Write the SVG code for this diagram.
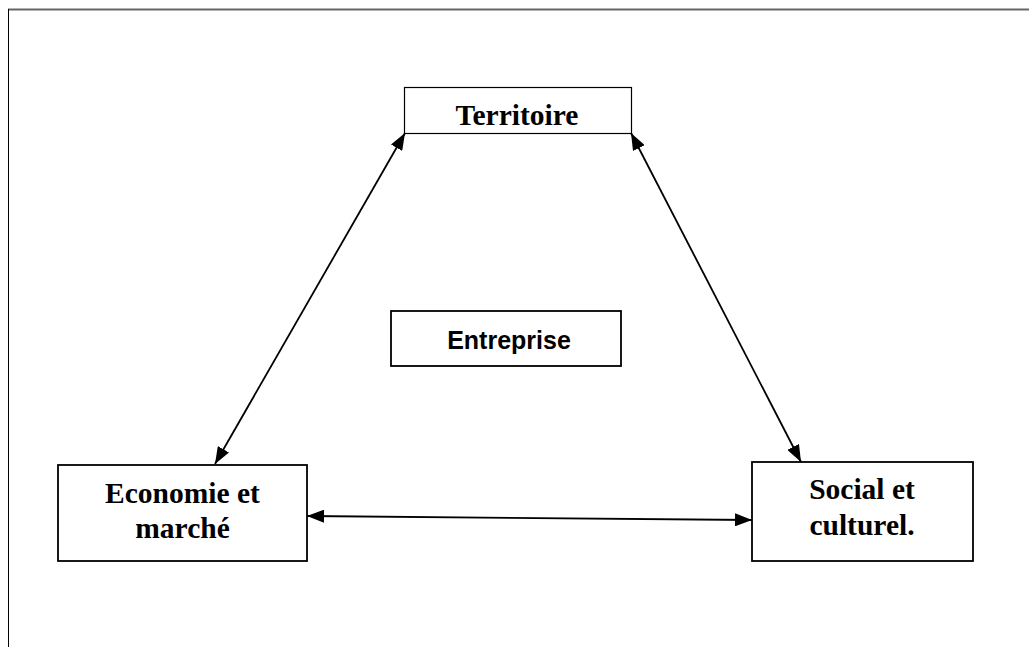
<svg xmlns="http://www.w3.org/2000/svg" width="1029" height="647" viewBox="0 0 1029 647">
<style>
.box{fill:#fff;stroke:#000;stroke-width:1.8}
.serif{font-family:"Liberation Serif","Times New Roman",serif;font-weight:bold;font-size:29.5px;fill:#000;text-anchor:middle}
.sans{font-family:"Liberation Sans",Arial,sans-serif;font-weight:bold;font-size:25px;fill:#000;text-anchor:middle}
.conn{stroke:#000;stroke-width:1.8;fill:none;marker-start:url(#ah);marker-end:url(#ah)}
</style>
<defs>
<marker id="ah" viewBox="0 0 17 13" refX="17" refY="6.5" markerWidth="17" markerHeight="13" markerUnits="userSpaceOnUse" orient="auto-start-reverse">
<path d="M0,0 L17,6.5 L0,13 Z" fill="#000"/>
</marker>
</defs>
<rect width="1029" height="647" fill="#fff"/>
<g id="frame">
<line x1="8" y1="9.5" x2="1029" y2="9.5" stroke="#666" stroke-width="2"/>
<line x1="8.5" y1="9" x2="8.5" y2="647" stroke="#000" stroke-width="1"/>
</g>
<g id="connectors">
<line class="conn" x1="405" y1="133" x2="215" y2="464"/>
<line class="conn" x1="631" y1="133" x2="801" y2="462"/>
<line class="conn" x1="307" y1="516" x2="752" y2="520"/>
</g>
<g id="territoire">
<rect class="box" x="404.5" y="87.5" width="227" height="46" style="stroke-width:1.2"/>
<text class="serif" x="517" y="125">Territoire</text>
</g>
<g id="entreprise">
<rect class="box" x="391" y="311" width="230" height="55"/>
<text class="sans" x="509" y="349">Entreprise</text>
</g>
<g id="economie">
<rect class="box" x="58" y="465" width="249" height="96"/>
<text class="serif" x="182.5" y="503">Economie et</text>
<text class="serif" x="182.5" y="538">marché</text>
</g>
<g id="social">
<rect class="box" x="752" y="462" width="221" height="99"/>
<text class="serif" x="862" y="499">Social et</text>
<text class="serif" x="862" y="535">culturel.</text>
</g>
</svg>
